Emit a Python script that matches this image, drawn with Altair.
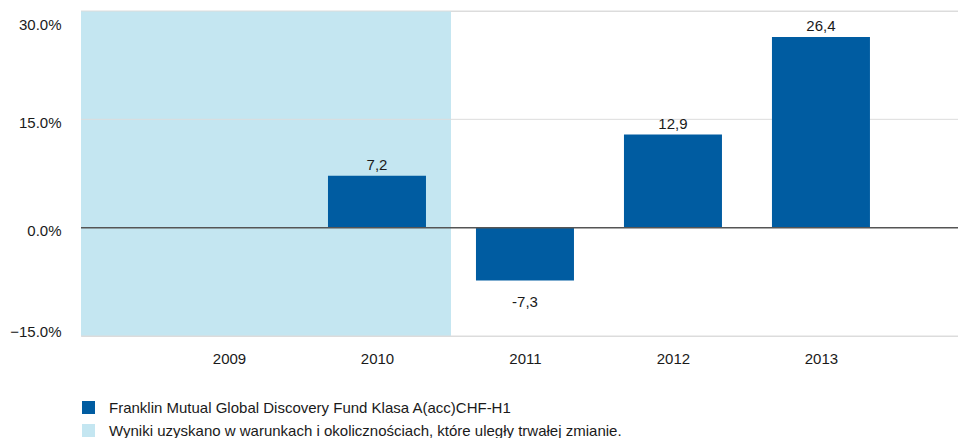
import altair as alt
import pandas as pd

# ---- data ----
years = [2009, 2010, 2011, 2012, 2013]
returns = [None, 7.2, -7.3, 12.9, 26.4]
value_labels = ["", "7,2", "-7,3", "12,9", "26,4"]
series_name = "Franklin Mutual Global Discovery Fund Klasa A(acc)CHF-H1"
shade_name = "Wyniki uzyskano w warunkach i okolicznościach, które uległy trwałej zmianie."
shade_start = [2008]
shade_end = [2010.5]
shade_low = [-15]
shade_high = [30]
y_ticks = [-15, 0, 15, 30]
grid_values = [-15, 15, 30]
zero_line = [0]

FONT = "Liberation Sans"
BAR_COLOR = "#005ca1"
SHADE_COLOR = "#c4e6f1"
TEXT_COLOR = "#1a1a1a"

bars_df = pd.DataFrame({
    "year": years,
    "value": returns,
    "label": value_labels,
    "series": [series_name] * len(years),
})
shade_df = pd.DataFrame({
    "start": shade_start,
    "end": shade_end,
    "lo": shade_low,
    "hi": shade_high,
    "series": [shade_name],
})
grid_df = pd.DataFrame({"g": grid_values})
zero_df = pd.DataFrame({"z": zero_line})

x_scale = alt.Scale(domain=[2008, 2013.926], nice=False, zero=False, padding=0)
y_scale = alt.Scale(domain=[-15, 30], nice=False, zero=False, padding=0)
color_scale = alt.Scale(domain=[series_name, shade_name], range=[BAR_COLOR, SHADE_COLOR])

x_axis = alt.Axis(
    values=years, format="d", grid=False, domain=False, ticks=False,
    labelPadding=15, labelFontSize=15, labelFont=FONT, labelColor=TEXT_COLOR,
    title=None, labelFlush=False, labelOverlap=False,
)
y_axis = alt.Axis(
    values=y_ticks, labelExpr="format(datum.value, '.1f') + '%'",
    grid=False, domain=False, ticks=False, labelPadding=20,
    labelFontSize=15, labelFont=FONT, labelColor=TEXT_COLOR, title=None,
    labelFlush=False, labelOverlap=False,
    labelOffset={
        "condition": [
            {"test": "datum.value == 30", "value": 13},
            {"test": "datum.value == -15", "value": -5},
        ],
        "value": 3,
    },
)
legend = alt.Legend(
    title=None, orient="none", legendX=0, legendY=389, direction="vertical",
    symbolType="square", symbolSize=169, symbolStrokeWidth=0,
    labelFontSize=15, labelFont=FONT, labelColor=TEXT_COLOR, labelOffset=13,
    rowPadding=7, padding=0, labelLimit=1000,
)

def X(field):
    return alt.X(field, type="quantitative", scale=x_scale, axis=x_axis)

def Y(field):
    return alt.Y(field, type="quantitative", scale=y_scale, axis=y_axis)

color = alt.Color("series:N", scale=color_scale, legend=legend)

shade = alt.Chart(shade_df).mark_rect().encode(
    x=X("start"), x2="end", y=Y("lo"), y2="hi", color=color
)
grid = alt.Chart(grid_df).mark_rule(color="#dcdcdc", strokeWidth=1).encode(y=Y("g"))
bars = alt.Chart(bars_df).mark_bar(size=98).encode(x=X("year"), y=Y("value"), color=color)
zero = alt.Chart(zero_df).mark_rule(color="#555555", strokeWidth=1.5).encode(y=Y("z"))
pos_text = alt.Chart(bars_df).transform_filter("datum.value > 0").mark_text(
    baseline="alphabetic", dy=-6, fontSize=15, font=FONT, color=TEXT_COLOR
).encode(x=X("year"), y=Y("value"), text="label:N")
neg_text = alt.Chart(bars_df).transform_filter("datum.value < 0").mark_text(
    baseline="alphabetic", dy=27, fontSize=15, font=FONT, color=TEXT_COLOR
).encode(x=X("year"), y=Y("value"), text="label:N")

chart = alt.layer(shade, grid, bars, zero, pos_text, neg_text).properties(
    width=877, height=325,
    autosize=alt.AutoSizeParams(type="none"),
    padding={"left": 73, "top": 3, "right": 0, "bottom": 102},
).configure_view(stroke=None).configure(font=FONT)

chart.save("out.html", embed_options={"renderer": "svg", "actions": False})
